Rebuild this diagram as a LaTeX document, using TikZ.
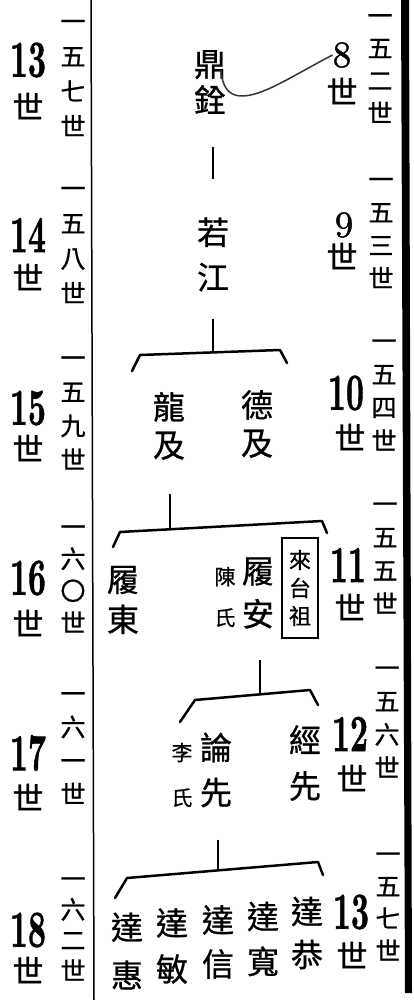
\documentclass[tikz,border=0pt]{standalone}
\usepackage{fontspec}
\usepackage{graphicx}
\usetikzlibrary{calc}
\newfontfamily\cjk{Noto Sans CJK TC}[FakeBold=0.8]
\newfontfamily\numf{lmroman10-bold.otf}[FakeBold=1.4]
\newfontfamily\numr{lmroman10-regular.otf}[FakeBold=1.2]
\newcommand\fl{\vphantom{世}}
\newcommand\bn[1]{\scalebox{0.6}[1]{#1}}
\tikzset{
  nm/.style={font=\cjk\fontsize{32}{#1}\selectfont, align=center, inner sep=0pt},
  nm/.default=40,
  gen/.style={font=\cjk\fontsize{25}{#1}\selectfont, align=center, inner sep=0pt},
  gen/.default=33,
  note/.style={font=\cjk\fontsize{21}{#1}\selectfont, align=center, inner sep=0pt},
  note/.default=42,
  shi/.style={font=\cjk\fontsize{31}{31}\selectfont, inner sep=0pt},
  bnum/.style={font=\numf\fontsize{52}{52}\selectfont, inner sep=0pt},
  rnum/.style={font=\numr\fontsize{37}{37}\selectfont, inner sep=0pt},
  tie/.style={line width=2.5pt, line join=round, line cap=round},
  stem/.style={line width=2pt},
  thinstem/.style={line width=1.5pt},
  curvy/.style={line width=1.5pt, draw=black!80},
  boxed/.style={draw, line width=1.6pt, minimum width=36pt, minimum height=100pt, inner sep=0pt,
    font=\cjk\fontsize{22}{28}\selectfont, align=center}
}
\begin{document}
\begin{tikzpicture}[x=1pt,y=-1pt]
\useasboundingbox (0,0) rectangle (414,1000);
\fill[white] (0,0) rectangle (414,1000);

% frame rules
\draw[line width=1.5pt] (91,0) -- (94,1000);
\fill (401,0) -- (409,0) -- (412,993) -- (405,993) -- cycle;

% ---- left generation column
\node[bnum] (l13) at (28,60) {\bn{13}};
\node[shi] (l13s) at (28,106) {世};
\node[gen=35] (l13g) at (73,73) {一\fl\\五\\七\\世};

\node[bnum] (l14) at (28,235) {\bn{14}};
\node[shi] (l14s) at (28,277) {世};
\node[gen=35] (l14g) at (73,240) {一\fl\\五\\八\\世};

\node[bnum] (l15) at (28,408) {\bn{15}};
\node[shi] (l15s) at (28,448) {世};
\node[gen=34] (l15g) at (73,408) {一\fl\\五\\九\\世};

\node[bnum] (l16) at (28,578) {\bn{16}};
\node[shi] (l16s) at (28,623) {世};
\node[gen=32] (l16g) at (73,574) {一\fl\\六\\〇\\世};

\node[bnum] (l17) at (28,753) {\bn{17}};
\node[shi] (l17s) at (28,797) {世};
\node[gen=33.5] (l17g) at (73,743) {一\fl\\六\\一\\世};

\node[bnum] (l18) at (28,930) {\bn{18}};
\node[shi] (l18s) at (28,970) {世};
\node[gen=30.7] (l18g) at (73,924) {一\fl\\六\\二\\世};

% ---- right generation column
\node[rnum] (r8) at (342,55) {8};
\node[shi] (r8s) at (342,91) {世};
\node[gen=32.5] (r8g) at (380,63.5) {一\fl\\五\\二\\世};

\node[rnum] (r9) at (344,225) {9};
\node[shi] (r9s) at (342,256) {世};
\node[gen=33] (r9g) at (381,228) {一\fl\\五\\三\\世};

\node[bnum] (r10) at (346,393) {\bn{10}};
\node[shi] (r10s) at (350,437) {世};
\node[gen=33.3] (r10g) at (384,390) {一\fl\\五\\四\\世};

\node[bnum] (r11) at (348,565) {\bn{11}};
\node[shi] (r11s) at (350,607) {世};
\node[gen=33.3] (r11g) at (385,553) {一\fl\\五\\五\\世};

\node[bnum] (r12) at (350,734) {\bn{12}};
\node[shi] (r12s) at (352,778) {世};
\node[gen=33.3] (r12g) at (387,717) {一\fl\\五\\六\\世};

\node[bnum] (r13) at (351,912) {\bn{13}};
\node[shi] (r13s) at (352,955) {世};
\node[gen=32.3] (r13g) at (388,901.5) {一\fl\\五\\七\\世};

% ---- names
\node[nm=36] (dq) at (210,82) {鼎\\銓};
\node[nm=45] (rj) at (213,254.5) {若\\江};
\node[nm=38] (lj) at (169,426) {龍\\及};
\node[nm=38] (dj) at (257,424) {德\\及};
\node[nm=40] (ld) at (123,600) {履\\東};
\node[note=41] (chen) at (225,597) {陳\\氏};
\node[nm=43] (la) at (258,593) {履\\安};
\node[boxed] (ltz) at (300,588) {來\\台\\祖};
\node[note=45] (li) at (182,775) {李\\氏};
\node[nm=45] (lx) at (216,770) {論\\先};
\node[nm=46] (jx) at (305,763) {經\\先};
\node[nm=48] (dh) at (127,951) {達\\惠};
\node[nm=46] (dm) at (172,946) {達\\敏};
\node[nm=44] (dx) at (218,942) {達\\信};
\node[nm=45] (dk) at (263,939) {達\\寬};
\node[nm=43] (dg) at (307,933) {達\\恭};

% ---- curve from 8 to 鼎
\coordinate (dtail) at (221,70);
\draw[curvy] (r8.west) .. controls (292,76) and (262,97) .. (240,96)
  .. controls (228,95) and (222,86) .. (dtail);

% ---- stem between 鼎銓 and 若江
\draw[thinstem, shorten <=33pt, shorten >=38pt] (dq.south -| rj.north) -- (rj.north);

% ---- bracket 1
\coordinate (b1l) at (132,371);
\coordinate (b1a) at (140,355);
\coordinate (b1b) at (280,350);
\coordinate (b1r) at (287,363);
\coordinate (b1s) at (213,352.4);
\draw[tie] (b1l) -- (b1a) -- (b1b) -- (b1r);
\draw[stem, shorten <=27pt] (rj.south -| b1s) -- (b1s);

% ---- bracket 2
\coordinate (b2l) at (113,547);
\coordinate (b2a) at (120,532);
\coordinate (b2b) at (322,521);
\coordinate (b2r) at (327,533);
\coordinate (b2s) at (170,529.3);
\draw[tie] (b2l) -- (b2a) -- (b2b) -- (b2r);
\draw[stem, shorten <=34pt] (lj.south -| b2s) -- (b2s);

% ---- bracket 3
\coordinate (b3l) at (180,722);
\coordinate (b3a) at (195,700);
\coordinate (b3b) at (310,690);
\coordinate (b3r) at (318,705);
\coordinate (b3s) at (260,694.3);
\draw[tie] (b3l) -- (b3a) -- (b3b) -- (b3r);
\draw[stem, shorten <=31pt] (la.south -| b3s) -- (b3s);

% ---- bracket 4
\coordinate (b4l) at (115,898);
\coordinate (b4a) at (127,878);
\coordinate (b4b) at (318,862);
\coordinate (b4r) at (323,875);
\coordinate (b4s) at (218,870.4);
\draw[tie] (b4l) -- (b4a) -- (b4b) -- (b4r);
\draw[stem, shorten <=32pt] (lx.south -| b4s) -- (b4s);
\end{tikzpicture}
\end{document}
